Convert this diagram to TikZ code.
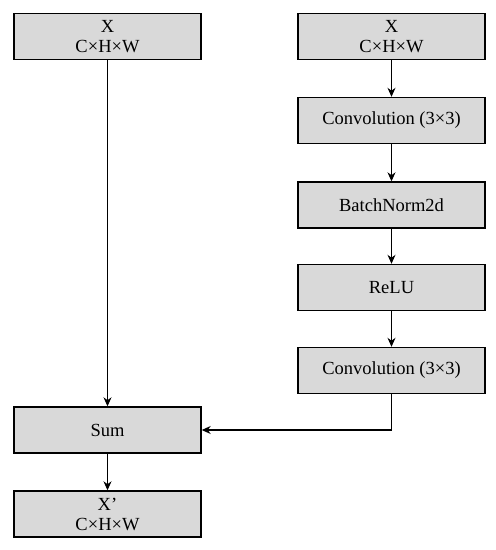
\documentclass[tikz,border=0pt]{standalone}
\usepackage{fontspec}
\setmainfont{Liberation Serif}
\usetikzlibrary{arrows.meta}
\begin{document}
\begin{tikzpicture}[x=1pt,y=-1pt,
  blk/.style={draw=black, line width=1.4pt, fill=boxgray, minimum width=187pt, minimum height=46pt, inner sep=0pt, align=center, font=\fontsize{18.5}{20}\selectfont},
  conn/.style={line width=1.2pt, -{Stealth[length=9pt,width=8pt]}}]
\definecolor{boxgray}{HTML}{D9D9D9}
\useasboundingbox (0,0) rectangle (496,550);
\node[blk] (xl) at (107.5,36.5) {X\\C×H×W};
\node[blk] (xr) at (391.5,36.5) {X\\C×H×W};
\node[blk] (c1) at (391.5,120.5) {Convolution (3×3)};
\node[blk] (bn) at (391.5,205) {BatchNorm2d};
\node[blk] (re) at (391.5,287.5) {ReLU};
\node[blk] (c2) at (391.5,370.5) {Convolution (3×3)};
\node[blk] (sum) at (107.5,430) {Sum};
\node[blk] (xo) at (107.5,514) {X'\\C×H×W};
\draw[conn] (xl) -- (sum);
\draw[conn] (xr) -- (c1);
\draw[conn] (c1) -- (bn);
\draw[conn] (bn) -- (re);
\draw[conn] (re) -- (c2);
\draw[conn] (c2.south) |- (sum.east);
\draw[conn] (sum) -- (xo);
\end{tikzpicture}
\end{document}
